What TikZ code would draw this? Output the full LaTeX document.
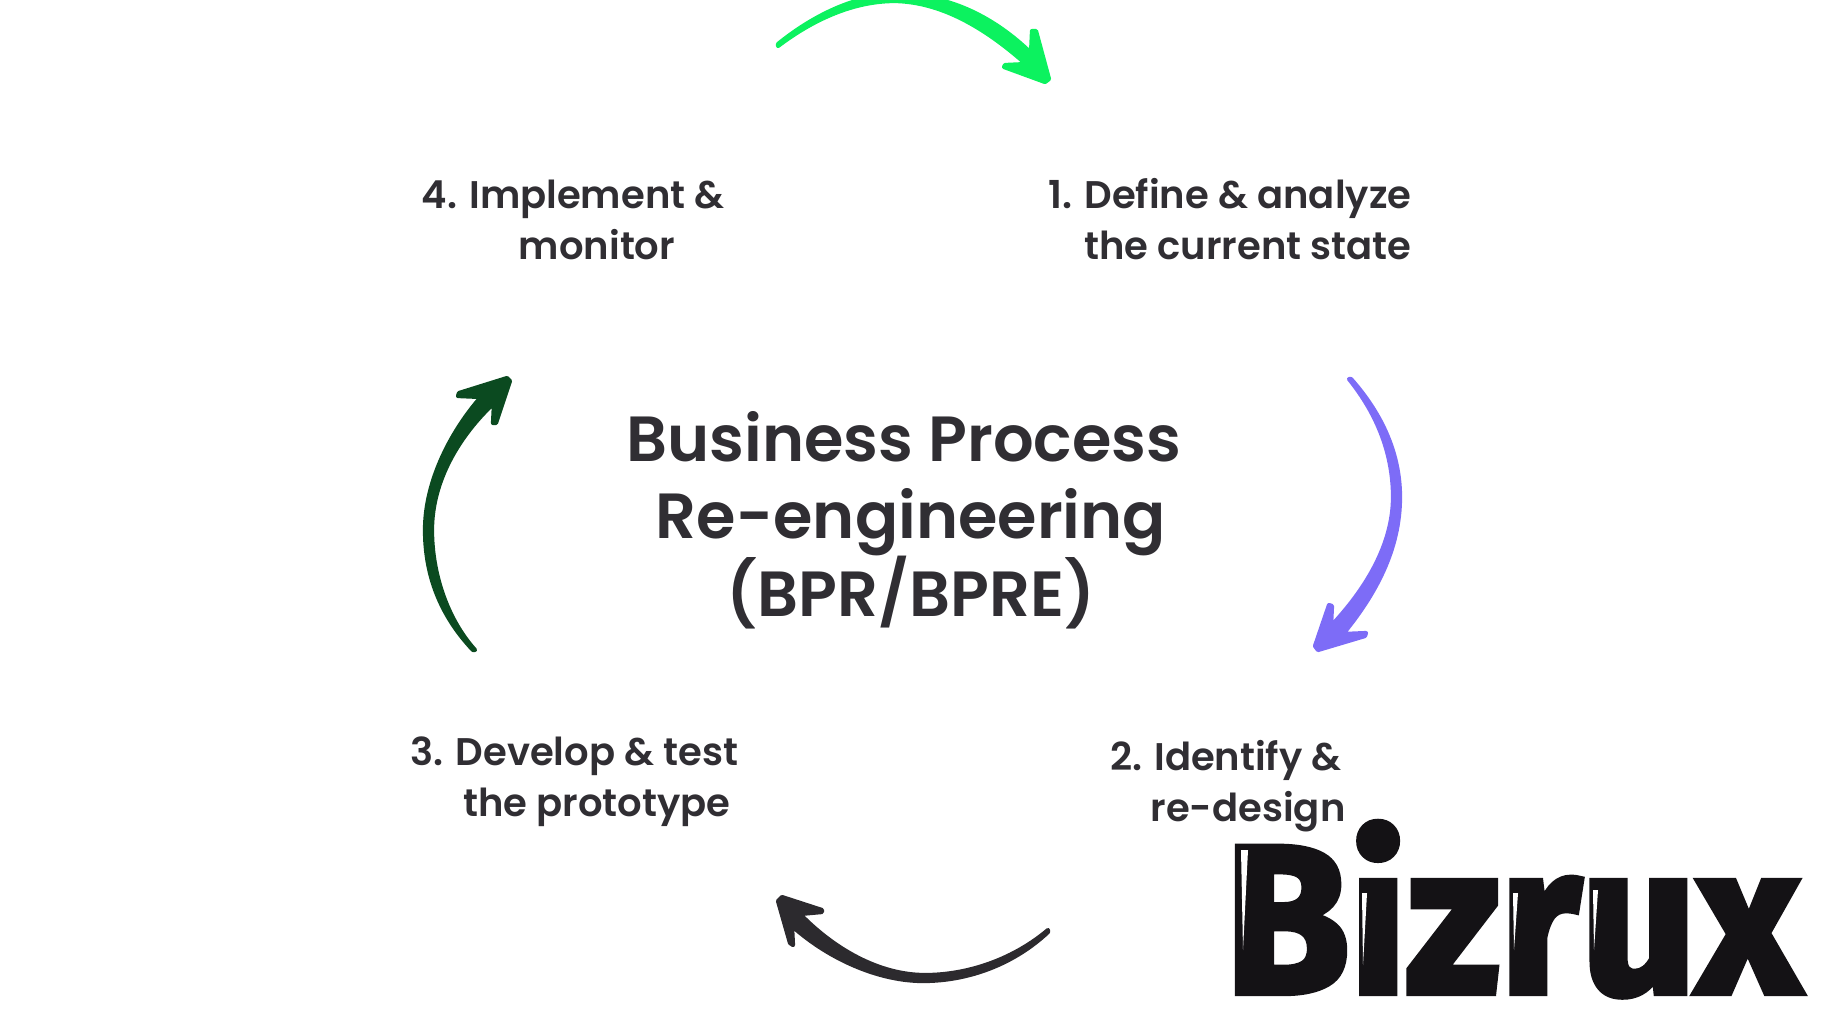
\documentclass[tikz,border=0pt]{standalone}
\usepackage{fontspec}
\setmainfont{Poppins}[UprightFont=* Medium]
\newfontfamily\semifont{Poppins SemiBold}
\newfontfamily\logofont{Fira Sans}[UprightFont=* Bold,FakeBold=3]
\definecolor{arrowgreen}{HTML}{0CF25F}
\definecolor{arrowviolet}{HTML}{7D6CF7}
\definecolor{arrowpine}{HTML}{0B4A20}
\definecolor{arrowdark}{HTML}{2C2A2E}
\definecolor{textdark}{HTML}{302E33}
\definecolor{logoblack}{HTML}{141215}
\tikzset{
	steplabel/.style={align=center,text=textdark,font=\semifont\fontsize{10.95pt}{14.5pt}\selectfont,inner sep=0pt},
	handarrow/.style={line width=1.2pt,line join=round},
}
\begin{document}
\begin{tikzpicture}[x=0.01cm,y=-0.01cm]
	\useasboundingbox (0,0) rectangle (1824,1026);

	\node[align=center,text=textdark,font=\semifont\fontsize{18.15pt}{21.9pt}\selectfont,inner sep=0pt] (title) at (911,520) {Business Process\hspace*{4pt}\\Re-engineering\\[-1pt](BPR/BPRE)};

	\node[steplabel] (define) at (1248,219) {\llap{1.\hspace{3.4pt}}Define \& analyze\\the current state};
	\node[steplabel] (identify) at (1248,786) {\llap{2.\hspace{3.4pt}}Identify \&\\re-design};
	\node[steplabel] (develop) at (597,782) {\llap{3.\hspace{3.4pt}}Develop \& test\\the prototype};
	\node[steplabel] (implement) at (597,220) {\llap{4.\hspace{3.4pt}}Implement \&\\monitor};

	% green arrow
	\draw[handarrow,fill=arrowgreen,draw=arrowgreen] (778,44) .. controls (815,14) and (860,-7) .. (900,-5)
		.. controls (950,-5) and (995,18) .. (1031,53) -- (1032,31) -- (1036,31) -- (1049,79) -- (1045,82)
		-- (1004,67) -- (1005,65) -- (1026,64) .. controls (990,32) and (945,2) .. (895,1)
		.. controls (855,1) and (815,18) .. (778,46) -- cycle;
	% violet arrow
	\draw[handarrow,fill=arrowviolet,draw=arrowviolet] (1351,379) .. controls (1383,415) and (1400,455) .. (1400,497)
		.. controls (1400,550) and (1375,595) .. (1343,634) -- (1366,633) -- (1365,636) -- (1318,650) -- (1315,646)
		-- (1329,605) -- (1332,606) -- (1331,626) .. controls (1365,590) and (1393,545) .. (1393,497)
		.. controls (1393,455) and (1378,415) .. (1349,379) -- cycle;
	% dark arrow
	\draw[handarrow,fill=arrowdark,draw=arrowdark] (1048,932) .. controls (1015,963) and (970,981) .. (923,981)
		.. controls (880,981) and (830,960) .. (792,926) -- (793,945) -- (790,943) -- (778,901) -- (782,897)
		-- (822,910) -- (822,912) -- (800,914) .. controls (835,950) and (880,975) .. (925,975)
		.. controls (970,975) and (1015,958) .. (1048,930) -- cycle;
	% pine arrow
	\draw[handarrow,fill=arrowpine,draw=arrowpine] (473,650) .. controls (440,615) and (425,575) .. (425,530)
		.. controls (425,480) and (452,430) .. (481,397) -- (458,396) -- (459,393) -- (507,378) -- (510,381)
		-- (496,423) -- (493,423) -- (494,403) .. controls (460,435) and (432,480) .. (432,530)
		.. controls (432,575) and (448,620) .. (475,650) -- cycle;

	\node[font=\logofont\fontsize{60pt}{60pt}\selectfont,text=logoblack,inner sep=0pt,anchor=base west,xscale=0.96] (logo) at (1224,993) {Bizrux};
	% logo shine
	\fill[white] (1241,850) -- (1248,850) -- (1243,950) -- cycle;
	\fill[white] (1362,893) -- (1367,893) -- (1363,965) -- cycle;
	\fill[white] (1513,893) -- (1518,893) -- (1514,950) -- cycle;
	\fill[white] (1593,890) -- (1598,890) -- (1594,950) -- cycle;
\end{tikzpicture}
\end{document}
